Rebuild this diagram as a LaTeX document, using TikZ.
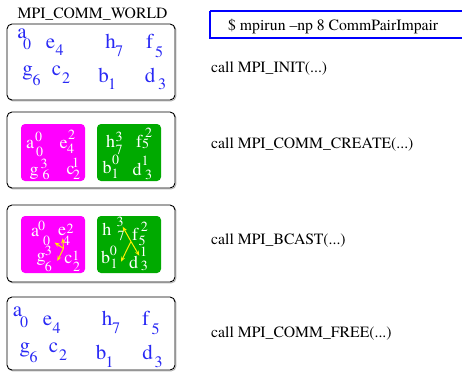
\documentclass[tikz,border=0pt]{standalone}
\usepackage{fontspec}
\setmainfont{texgyretermes}[Extension=.otf,UprightFont=*-regular,BoldFont=*-bold,ItalicFont=*-italic,BoldItalicFont=*-bolditalic]
\usetikzlibrary{arrows.meta}
\definecolor{rankblue}{RGB}{40,40,245}
\definecolor{grpmag}{RGB}{255,0,255}
\definecolor{grpgreen}{RGB}{0,170,0}
\definecolor{bcastyellow}{RGB}{255,240,0}
\definecolor{cmdblue}{RGB}{0,0,255}

\begin{document}
\begin{tikzpicture}[x=1pt,y=-1pt,
  frame/.style={draw=black,line width=0.9pt,rounded corners=5pt},
  frameshade/.style={draw=black!30,line width=0.9pt,rounded corners=5pt},
  grp/.style={rounded corners=4pt},
  proc/.style={anchor=base,inner sep=0pt,text=rankblue,font=\rmfamily\fontsize{21}{21}\selectfont},
  procnum/.style={anchor=base,inner sep=0pt,text=rankblue,font=\rmfamily\fontsize{16}{16}\selectfont},
  wproc/.style={anchor=base,inner sep=0pt,text=white,font=\rmfamily\fontsize{18}{18}\selectfont},
  wnum/.style={anchor=base,inner sep=0pt,text=white,font=\rmfamily\fontsize{14}{14}\selectfont},
  calltext/.style={anchor=base west,inner sep=0pt,font=\rmfamily\fontsize{15.7}{16}\selectfont},
  bc/.style={draw=bcastyellow,line width=1pt,-{Stealth[length=5pt,width=4pt]}}
]
\useasboundingbox (0,0) rectangle (462,372);

% command line box
\draw[cmdblue,line width=1.6pt] (210,11) -- (470,11) (210,11) -- (210,38) -- (470,38);
\node[calltext] (cmd) at (228,30) {\$ mpirun –np 8 CommPairImpair};

% communicator label
\node[anchor=base,inner sep=0pt,font=\rmfamily\fontsize{15.7}{16}\selectfont] (world) at (92.5,18.5) {MPI\_COMM\_WORLD};

% frames with a light shadow
\foreach \t/\b in {24/100,112/188,205/282,297/370}{
  \draw[frameshade] (8,\t+1) rectangle (176,\b+1);
  \draw[frame,fill=white] (7,\t) rectangle (175,\b);
}

% ---- step 1: MPI_COMM_WORLD ranks
\node[proc] (a1) at (22,38) {a};     \node[procnum] (a1n) at (27,49) {0};
\node[proc] (e1) at (50.5,48) {e};   \node[procnum] (e1n) at (59.5,55) {4};
\node[proc] (h1) at (110.5,48) {h};  \node[procnum] (h1n) at (119,56) {7};
\node[proc] (f1) at (149.5,48) {f};  \node[procnum] (f1n) at (159,57) {5};
\node[proc] (g1) at (27.5,75) {g};   \node[procnum] (g1n) at (36.5,85) {6};
\node[proc] (c1) at (56.5,75) {c};   \node[procnum] (c1n) at (66,83) {2};
\node[proc] (b1) at (103.5,82) {b};  \node[procnum] (b1n) at (112,89) {1};
\node[proc] (d1) at (150,82) {d};    \node[procnum] (d1n) at (162,89) {3};
\node[calltext] (init) at (211,72) {call MPI\_INIT(...)};

% ---- step 2: two new communicators
\fill[grpmag,grp] (21,124) rectangle (85,181);
\fill[grpgreen,grp] (97,124) rectangle (161,181);
\node[wproc] (a2) at (30,148) {a};   \node[wnum] (a2r) at (38.5,141) {0}; \node[wnum] (a2n) at (39.5,156) {0};
\node[wproc] (e2) at (63.5,148) {e}; \node[wnum] (e2r) at (71.5,139) {2}; \node[wnum] (e2n) at (70.5,153) {4};
\node[wproc] (g2) at (34,175) {g};   \node[wnum] (g2r) at (44,168) {3};   \node[wnum] (g2n) at (46,179) {6};
\node[wproc] (c2) at (70.5,174) {c}; \node[wnum] (c2r) at (75.5,167) {1}; \node[wnum] (c2n) at (76.5,179) {2};
\node[wproc] (h2) at (110.5,147) {h};\node[wnum] (h2r) at (119,141) {3};  \node[wnum] (h2n) at (119,154) {7};
\node[wproc] (f2) at (139,147) {f};  \node[wnum] (f2r) at (148.5,137) {2};\node[wnum] (f2n) at (145.5,148) {5};
\node[wproc] (b2) at (107,173) {b};  \node[wnum] (b2r) at (115.5,164) {0};\node[wnum] (b2n) at (115,178) {1};
\node[wproc] (d2) at (137,175) {d};  \node[wnum] (d2r) at (145,165) {1};  \node[wnum] (d2n) at (148.5,179) {3};
\node[calltext] (create) at (211,148.5) {call MPI\_COMM\_CREATE(...)};

% ---- step 3: broadcast inside each communicator
\fill[grpmag,grp] (21,216) rectangle (85,273);
\fill[grpgreen,grp] (97,216) rectangle (161,273);
\node[wproc] (a3) at (35,236.5) {a};   \node[wnum] (a3r) at (41.5,230) {0};  \node[wnum] (a3n) at (46.5,245.5) {0};
\node[wproc] (e3) at (62,235) {e};     \node[wnum] (e3r) at (70,233) {2};    \node[wnum] (e3n) at (66.5,245.5) {4};
\node[wproc] (g3) at (41,261.5) {g};   \node[wnum] (g3r) at (48.3,255.5) {3};\node[wnum] (g3n) at (48.3,271.5) {6};
\node[wproc] (c3) at (68.3,263) {c};   \node[wnum] (c3r) at (75.8,260) {1};  \node[wnum] (c3n) at (76.7,271.5) {2};
\node[wproc] (h3) at (106.8,235) {h};  \node[wnum] (h3r) at (120,226.5) {3}; \node[wnum] (h3n) at (121,240) {7};
\node[wproc] (f3) at (135,240) {f};    \node[wnum] (f3r) at (144.3,231.5) {2};\node[wnum] (f3n) at (142,245) {5};
\node[wproc] (b3) at (105.5,263.3) {b};\node[wnum] (b3r) at (113.3,255) {0}; \node[wnum] (b3n) at (114,268.3) {1};
\node[wproc] (d3) at (133.5,268) {d};  \node[wnum] (d3r) at (143.5,256.5) {1};\node[wnum] (d3n) at (144.3,270) {3};
\coordinate (mroot) at (63.5,248.5);
\coordinate (mtoA) at (54.5,242.5);
\coordinate (mtoE) at (62.7,238.3);
\coordinate (mtoG) at (57.3,261);
\draw[bc] (mroot) -- (mtoA);
\draw[bc] (mroot) -- (mtoE);
\draw[bc] (mroot) -- (mtoG);
\coordinate (groot) at (131,241.5);
\coordinate (gtoH) at (122.7,226.7);
\coordinate (gtoD) at (139.3,255.7);
\coordinate (gtoB) at (121,261.7);
\draw[bc] (groot) -- (gtoH);
\draw[bc] (groot) -- (gtoD);
\draw[bc] (groot) -- (gtoB);
\node[calltext] (bcast) at (211,244.5) {call MPI\_BCAST(...)};

% ---- step 4: communicators freed
\node[proc] (a4) at (17.5,316) {a};   \node[procnum] (a4n) at (24,327) {0};
\node[proc] (e4) at (47.5,325) {e};   \node[procnum] (e4n) at (56.5,333) {4};
\node[proc] (h4) at (107,325) {h};    \node[procnum] (h4n) at (116,333) {7};
\node[proc] (f4) at (145.5,325) {f};  \node[procnum] (f4n) at (155.5,334) {5};
\node[proc] (g4) at (25,352) {g};     \node[procnum] (g4n) at (33.5,362) {6};
\node[proc] (c4) at (53.5,352) {c};   \node[procnum] (c4n) at (63,360) {2};
\node[proc] (b4) at (101,359) {b};    \node[procnum] (b4n) at (109.5,367) {1};
\node[proc] (d4) at (147.5,359) {d};  \node[procnum] (d4n) at (158.5,367) {3};
\node[calltext] (free) at (211,337.5) {call MPI\_COMM\_FREE(...)};
\end{tikzpicture}
\end{document}
